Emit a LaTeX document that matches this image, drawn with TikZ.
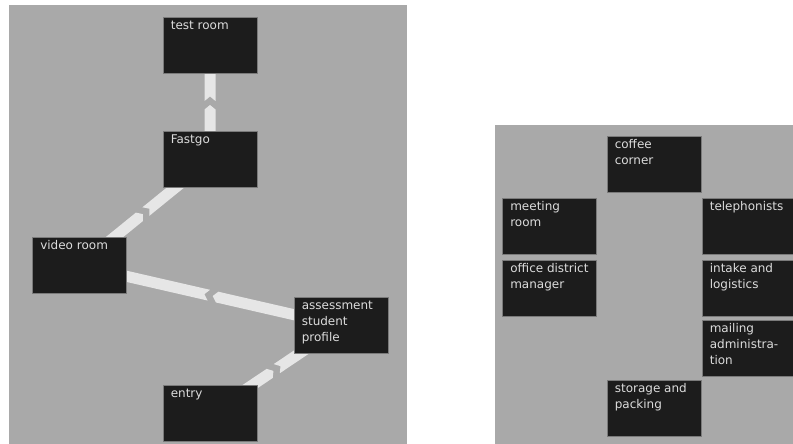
\documentclass[tikz,border=0pt]{standalone}
\usepackage{fontspec}
\usetikzlibrary{calc, backgrounds}
\newfontfamily\roomfont{DejaVu Sans}
\definecolor{panelc}{HTML}{A9A9A9}
\definecolor{boxc}{HTML}{1C1C1C}
\definecolor{edgec}{HTML}{7A7A7A}
\definecolor{textc}{HTML}{DCDCDC}
\definecolor{bandc}{HTML}{E6E6E6}
\tikzstyle{room} = [rectangle, draw=edgec, fill=boxc, line width=0.8pt, minimum width=94pt, minimum height=56pt, inner sep=0pt]
\tikzstyle{roomtext} = [anchor=north west, align=left, inner xsep=8pt, inner ysep=3.5pt, text=textc, font=\roomfont\fontsize{12pt}{16pt}\selectfont]
\tikzstyle{band} = [fill=bandc]

% walkway from #1 to #2: arrow half and notched half
\newcommand{\walkway}[2]{%
  \coordinate (mid) at ($(#1.center)!0.5!(#2.center)$);
  \coordinate (hb) at ($(mid)!7pt!(#1.center)$);
  \coordinate (hp) at ($(mid)!2.5pt!(#1.center)$);
  \coordinate (nc) at ($(mid)!1.5pt!(#2.center)$);
  \coordinate (na) at ($(mid)!6pt!(#2.center)$);
  \fill[band] ($(#1.center)!5.5pt!90:(#2.center)$) -- ($(hb)!5.5pt!90:(#2.center)$) -- (hp)
    -- ($(hb)!5.5pt!-90:(#2.center)$) -- ($(#1.center)!5.5pt!-90:(#2.center)$) -- cycle;
  \fill[band] ($(#2.center)!5.5pt!-90:(#1.center)$) -- ($(nc)!5.5pt!90:(#2.center)$) -- (na)
    -- ($(nc)!5.5pt!-90:(#2.center)$) -- ($(#2.center)!5.5pt!90:(#1.center)$) -- cycle;
}

\begin{document}
\begin{tikzpicture}[x=1pt, y=-1pt]
  \useasboundingbox (0,0) rectangle (793,444);

  % route
  \node[room, label={[roomtext]north west:test room}] (test) at (210,45.5) {};
  \node[room, label={[roomtext]north west:Fastgo}] (fastgo) at (210,159.5) {};
  \node[room, label={[roomtext]north west:video room}] (video) at (79.5,265.5) {};
  \node[room, label={[roomtext]north west:{assessment\\student\\profile}}] (assess) at (341,325.5) {};
  \node[room, label={[roomtext]north west:entry}] (entry) at (210,413.5) {};

  % office
  \node[room, label={[roomtext]north west:{coffee\\corner}}] (coffee) at (654,164.5) {};
  \node[room, label={[roomtext]north west:{meeting\\room}}] (meeting) at (549.5,226.5) {};
  \node[room, label={[roomtext]north west:{office district\\manager}}] (office) at (549.5,288.5) {};
  \node[room, label={[roomtext]north west:telephonists}] (tele) at (749,226.5) {};
  \node[room, label={[roomtext]north west:{intake and\\logistics}}] (intake) at (749,288) {};
  \node[room, label={[roomtext]north west:{mailing\\administra-\\tion}}] (mailing) at (749,348) {};
  \node[room, label={[roomtext]north west:{storage and\\packing}}] (storage) at (654,408.5) {};

  \begin{scope}[on background layer]
    % panels
    \fill[panelc] (9,5) rectangle (407,444);
    \fill[panelc] (495,125) rectangle (793,444);

    % walkways
    \walkway{entry}{assess}
    \walkway{assess}{video}
    \walkway{video}{fastgo}
    \walkway{fastgo}{test}
  \end{scope}
\end{tikzpicture}
\end{document}
